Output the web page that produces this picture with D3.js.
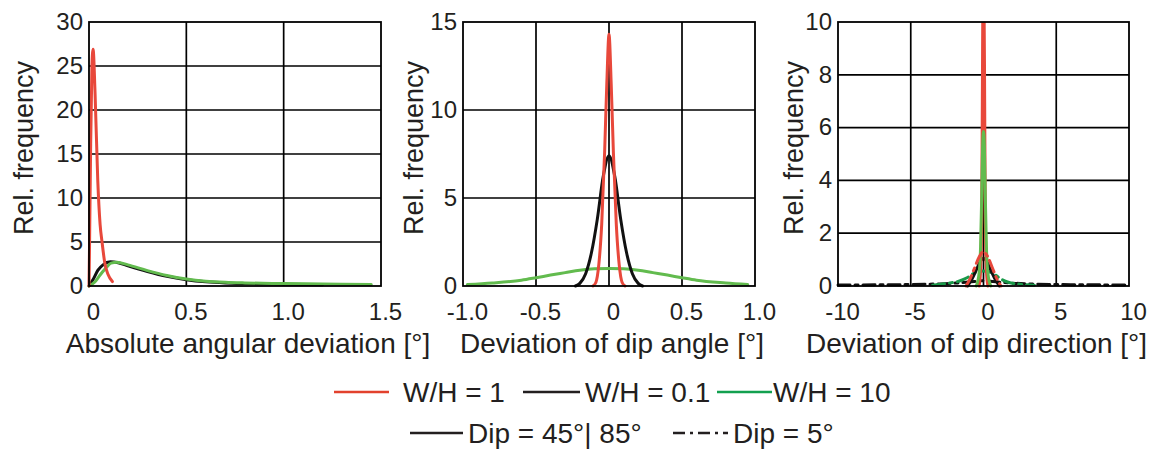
<!DOCTYPE html>
<html lang="en">
<head>
    <meta charset="UTF-8">
    <title>Deviation distributions</title>
    <script src="https://d3js.org/d3.v7.min.js"></script>
    <style>
        body { margin: 0; background: #fff; }
        svg { display: block; font-family: "Liberation Sans", Arial, Helvetica, sans-serif; }
        .grid line { stroke: #000; stroke-width: 1.7; }
        .frame { fill: none; stroke: #000; stroke-width: 1.8; }
        .tick text { fill: #231f20; }
        .curve { fill: none; stroke-width: 3; stroke-linejoin: round; stroke-linecap: round; }
        .title { fill: #231f20; }
    </style>
</head>
<body>
<svg id="chart" width="1154" height="450"></svg>
<script>
    // ---- panel 1: absolute angular deviation ----
    const absXTicks = [0, 0.5, 1.0, 1.5];
    const absXLabels = ["0", "0.5", "1.0", "1.5"];
    const absYTicks = [0, 5, 10, 15, 20, 25, 30];
    const absRed = [[0, 0], [0.003, 5], [0.008, 15], [0.015, 25], [0.021, 26.9], [0.031, 22],
                    [0.045, 12], [0.057, 7], [0.067, 5], [0.082, 2.5], [0.098, 1.3], [0.12, 0.5]];
    const absBlack = [[0, 0], [0.02, 0.7], [0.046, 1.8], [0.072, 2.4], [0.11, 2.75], [0.15, 2.65],
                      [0.2, 2.3], [0.3, 1.65], [0.4, 1.1], [0.5, 0.72], [0.6, 0.48], [0.7, 0.35],
                      [0.8, 0.28], [1.0, 0.2], [1.2, 0.15]];
    const absGreen = [[0, 0], [0.03, 0.45], [0.057, 1.25], [0.093, 2.2], [0.113, 2.6], [0.144, 2.7],
                      [0.2, 2.4], [0.3, 1.75], [0.4, 1.2], [0.5, 0.8], [0.6, 0.55], [0.7, 0.42],
                      [0.8, 0.35], [1.0, 0.28], [1.2, 0.22], [1.45, 0.18]];

    // ---- panel 2: deviation of dip angle ----
    const dipXTicks = [-1, -0.5, 0, 0.5, 1];
    const dipXLabels = ["-1.0", "-0.5", "0", "0.5", "1.0"];
    const dipYTicks = [0, 5, 10, 15];
    const dipRed = [[-0.11, 0], [-0.09, 0.2], [-0.07, 1.2], [-0.05, 3.5], [-0.03, 7.6], [-0.015, 11.5],
                    [0, 14.3], [0.015, 11.5], [0.03, 7.6], [0.05, 3.5], [0.07, 1.2], [0.09, 0.2], [0.11, 0]];
    const dipBlack = [[-0.23, 0], [-0.2, 0.15], [-0.16, 0.7], [-0.12, 1.9], [-0.08, 3.8], [-0.04, 6.2],
                      [0, 7.4], [0.04, 6.2], [0.08, 3.8], [0.12, 1.9], [0.16, 0.7], [0.2, 0.15], [0.23, 0]];
    const dipGreen = [[-0.97, 0.08], [-0.8, 0.17], [-0.6, 0.33], [-0.5, 0.47], [-0.4, 0.62], [-0.3, 0.76],
                      [-0.2, 0.9], [-0.1, 0.98], [0, 1.0], [0.1, 0.98], [0.2, 0.9], [0.3, 0.76],
                      [0.4, 0.62], [0.5, 0.47], [0.6, 0.33], [0.8, 0.17], [0.95, 0.08]];

    // ---- panel 3: deviation of dip direction ----
    const dirXTicks = [-10, -5, 0, 5, 10];
    const dirXLabels = ["-10", "-5", "0", "5", "10"];
    const dirYTicks = [0, 2, 4, 6, 8, 10];
    const dirRed = [[-0.3, 0], [-0.2, 0.6], [-0.12, 3], [-0.08, 7], [-0.04, 10.5], [0.04, 10.5],
                    [0.08, 7], [0.12, 3], [0.2, 0.6], [0.3, 0]];
    const dirGreen = [[-0.5, 0], [-0.3, 0.5], [-0.2, 1.5], [-0.12, 3.5], [-0.06, 5.3], [0, 5.85],
                      [0.06, 5.3], [0.12, 3.5], [0.2, 1.5], [0.3, 0.5], [0.5, 0]];
    const dirBlack = [[-1.1, 0], [-0.8, 0.25], [-0.5, 0.6], [-0.25, 0.9], [0, 1.05], [0.25, 0.9],
                      [0.5, 0.6], [0.8, 0.25], [1.1, 0]];
    const dirRedLow = [[-1.2, 0], [-0.9, 0.3], [-0.6, 0.7], [-0.3, 1.1], [0, 1.3], [0.3, 1.1],
                       [0.6, 0.7], [0.9, 0.3], [1.2, 0]];
    const dirGreenLow = [[-3.5, 0.03], [-2.5, 0.1], [-1.6, 0.2], [-1.1, 0.32], [-0.6, 0.5], [0, 0.57],
                         [0.6, 0.5], [1.1, 0.3], [1.6, 0.16], [2.5, 0.07], [3.5, 0.03]];
    const dirBlackLow = [[-10, 0.04], [-6, 0.05], [-3, 0.08], [-1, 0.15], [0, 0.2], [1, 0.15],
                         [3, 0.08], [6, 0.05], [10, 0.04]];

    const RED = "#e8483b", BLACK = "#111", GREEN = "#62bb4e";
    const DASHDOT = "12,5,3,5";

    const svg = d3.select("#chart");
    const plotTop = 22, plotBottom = 286;

    function drawPanel(opt) {
        const x = d3.scaleLinear().domain(opt.xDomain).range([opt.left, opt.right]);
        const y = d3.scaleLinear().domain(opt.yDomain).range([plotBottom, plotTop]);
        const g = svg.append("g");

        // gridlines
        const grid = g.append("g").attr("class", "grid");
        grid.selectAll(".vx").data(opt.xTicks.slice(1, -1)).join("line")
            .attr("x1", d => x(d)).attr("x2", d => x(d))
            .attr("y1", plotTop).attr("y2", plotBottom);
        grid.selectAll(".hy").data(opt.yTicks.slice(1, -1)).join("line")
            .attr("x1", opt.left).attr("x2", opt.right)
            .attr("y1", d => y(d)).attr("y2", d => y(d));

        // curves
        const clipId = "clip" + opt.id;
        svg.append("clipPath").attr("id", clipId).append("rect")
            .attr("x", opt.left - 3).attr("y", plotTop)
            .attr("width", opt.right - opt.left + 6).attr("height", plotBottom - plotTop + 3);
        const line = d3.line().x(d => x(d[0])).y(d => y(d[1])).curve(d3.curveMonotoneX);
        const curves = g.append("g").attr("clip-path", `url(#${clipId})`);
        opt.series.forEach(s => {
            curves.append("path").attr("class", "curve")
                .attr("d", line(s.data))
                .attr("stroke", s.color)
                .attr("stroke-dasharray", s.dash || null)
                .attr("stroke-linecap", s.dash ? "butt" : "round");
        });

        g.append("rect").attr("class", "frame")
            .attr("x", opt.left).attr("y", plotTop)
            .attr("width", opt.right - opt.left).attr("height", plotBottom - plotTop);

        // axes (labels only)
        const xAxis = g.append("g").attr("transform", `translate(0,${plotBottom})`)
            .call(d3.axisBottom(x).tickValues(opt.xTicks)
                .tickFormat((d, i) => opt.xLabels[i]).tickSize(0).tickPadding(17));
        const yAxis = g.append("g").attr("transform", `translate(${opt.left},0)`)
            .call(d3.axisLeft(y).tickValues(opt.yTicks).tickSize(0).tickPadding(6));
        [xAxis, yAxis].forEach(a => {
            a.select(".domain").remove();
            a.selectAll("text").attr("font-size", 24).attr("font-family", null);
        });
        xAxis.selectAll("text").attr("dx", 4);
        yAxis.selectAll("text").attr("dy", "0.3em");

        g.append("text").attr("class", "title")
            .attr("x", (opt.left + opt.right) / 2 + opt.titleShift).attr("y", 353)
            .attr("text-anchor", "middle").attr("font-size", 28)
            .text(opt.xTitle);
        g.append("text").attr("class", "title")
            .attr("transform", `translate(${opt.yTitleX},148) rotate(-90)`)
            .attr("text-anchor", "middle").attr("font-size", 27)
            .text("Rel. frequency");
    }

    drawPanel({
        id: 1, left: 89, right: 381, xDomain: [0, 1.5], yDomain: [0, 30],
        xTicks: absXTicks, xLabels: absXLabels, yTicks: absYTicks,
        xTitle: "Absolute angular deviation [°]", titleShift: 13, yTitleX: 33,
        series: [
            { data: absBlack, color: BLACK },
            { data: absGreen, color: GREEN },
            { data: absRed, color: RED }
        ]
    });
    drawPanel({
        id: 2, left: 463, right: 755, xDomain: [-1, 1], yDomain: [0, 15],
        xTicks: dipXTicks, xLabels: dipXLabels, yTicks: dipYTicks,
        xTitle: "Deviation of dip angle [°]", titleShift: 3, yTitleX: 423,
        series: [
            { data: dipGreen, color: GREEN },
            { data: dipBlack, color: BLACK },
            { data: dipRed, color: RED }
        ]
    });
    drawPanel({
        id: 3, left: 838, right: 1129, xDomain: [-10, 10], yDomain: [0, 10],
        xTicks: dirXTicks, xLabels: dirXLabels, yTicks: dirYTicks,
        xTitle: "Deviation of dip direction [°]", titleShift: -7, yTitleX: 803,
        series: [
            { data: dirBlackLow, color: BLACK, dash: DASHDOT },
            { data: dirGreenLow, color: "#1a9a4a", dash: DASHDOT },
            { data: dirBlack, color: BLACK },
            { data: dirRed, color: RED },
            { data: dirGreen, color: GREEN },
            { data: dirRedLow, color: RED, dash: DASHDOT }
        ]
    });

    // legend
    const legendRows = [
        { y: 392, items: [
            { x1: 334, x2: 389, tx: 403, color: "#e2412d", label: "W/H = 1" },
            { x1: 523, x2: 580, tx: 585, color: "#231f20", label: "W/H = 0.1" },
            { x1: 717, x2: 772, tx: 773, color: "#12a04f", label: "W/H = 10" }
        ]},
        { y: 433, items: [
            { x1: 410, x2: 463, tx: 468, color: "#231f20", label: "Dip = 45°| 85°" },
            { x1: 673, x2: 728, tx: 733, color: "#231f20", label: "Dip = 5°", dash: DASHDOT }
        ]}
    ];
    const legend = svg.append("g");
    legendRows.forEach(row => {
        row.items.forEach(it => {
            legend.append("line")
                .attr("x1", it.x1).attr("x2", it.x2).attr("y1", row.y).attr("y2", row.y)
                .attr("stroke", it.color).attr("stroke-width", 2.6)
                .attr("stroke-dasharray", it.dash || null);
            legend.append("text").attr("class", "title")
                .attr("x", it.tx).attr("y", row.y + 10)
                .attr("font-size", 28).text(it.label);
        });
    });
</script>
</body>
</html>
